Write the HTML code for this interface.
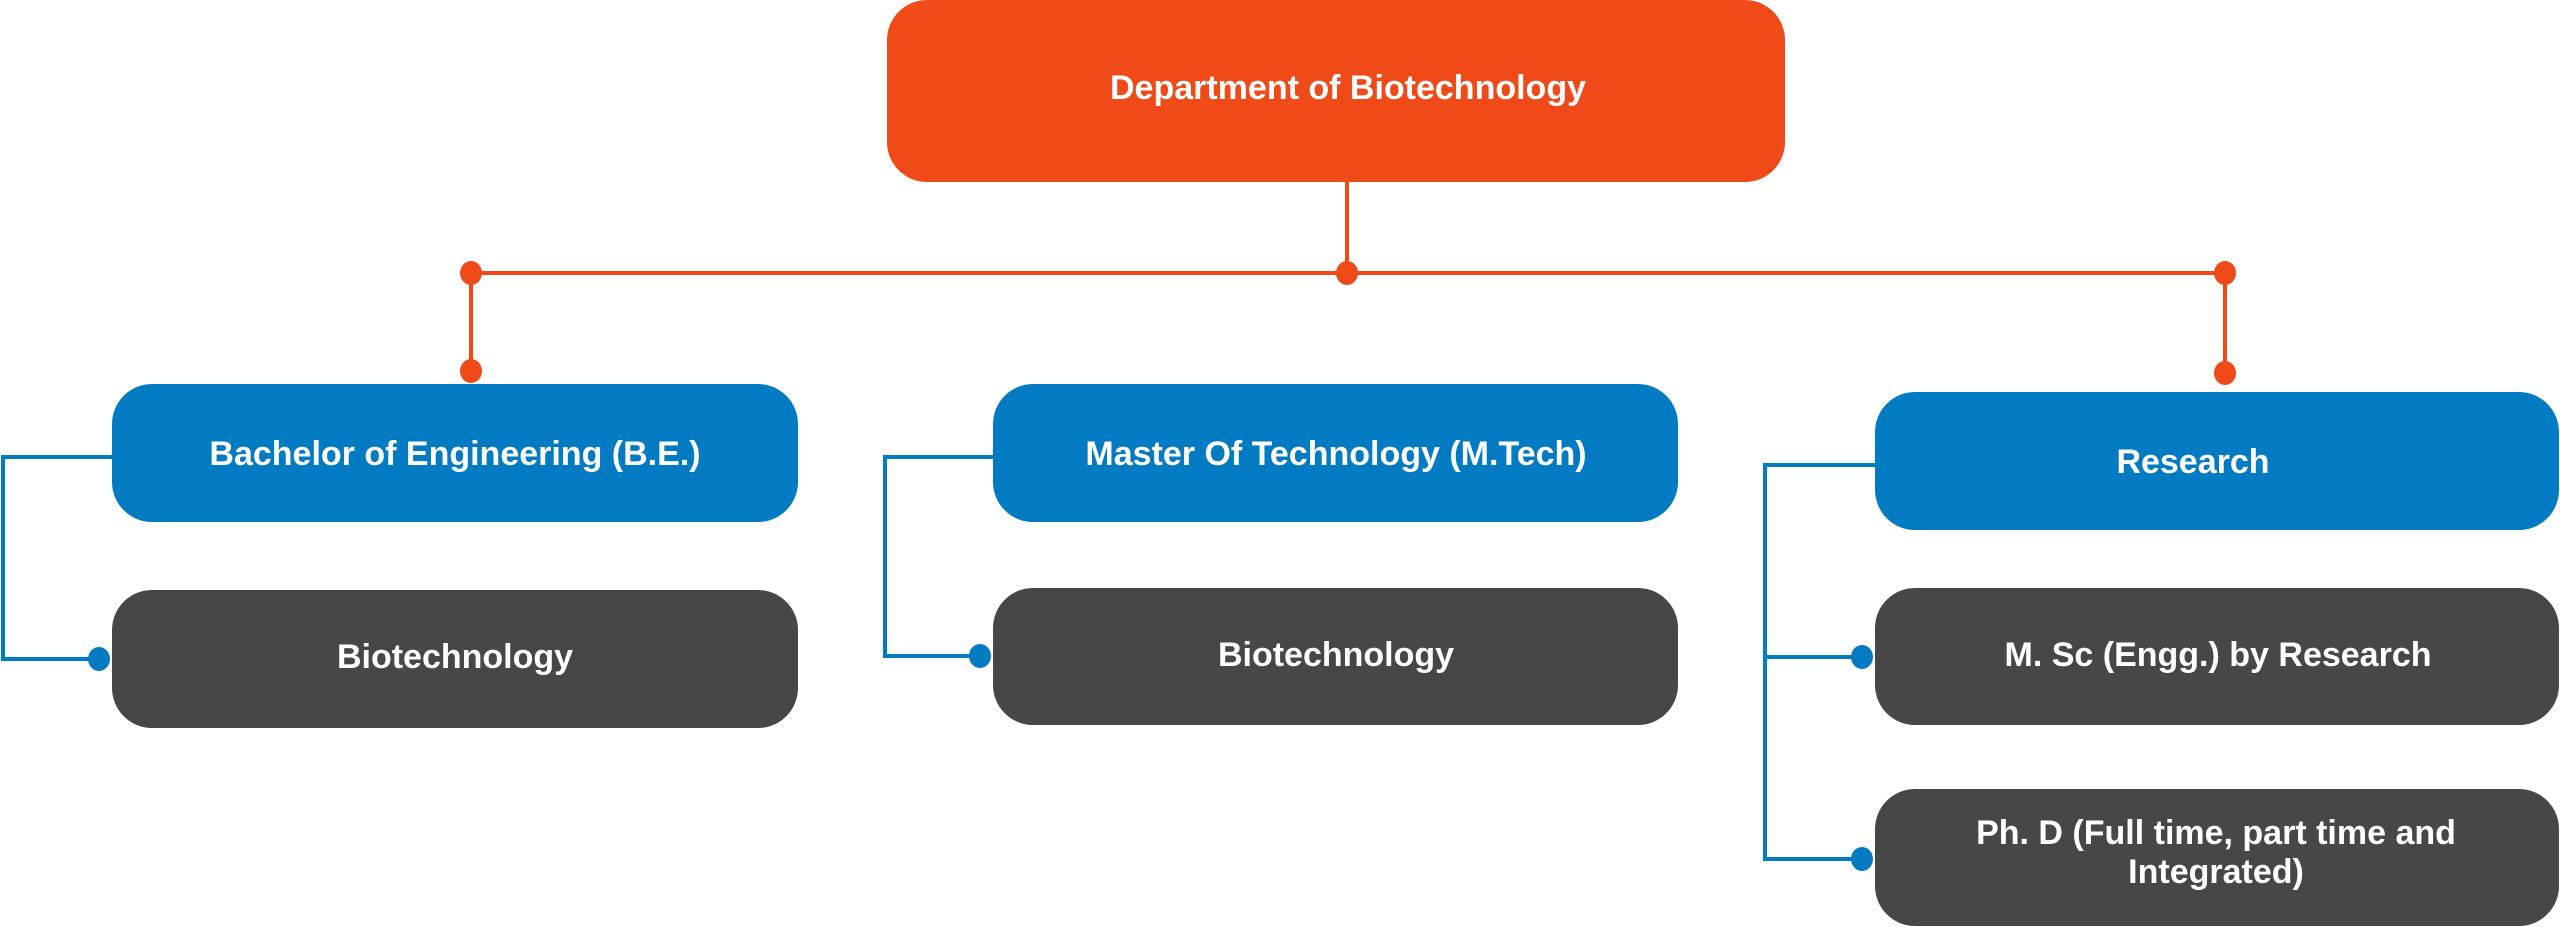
<!DOCTYPE html>
<html><head><meta charset="utf-8"><style>
html,body{margin:0;padding:0;background:#fff;width:2560px;height:927px;overflow:hidden}
svg{display:block}
text{font-family:"Liberation Sans",sans-serif;font-weight:bold;fill:#fff;font-size:34px;text-anchor:middle;dominant-baseline:central}
</style></head><body>
<svg width="2560" height="927" viewBox="0 0 2560 927">
<g stroke="#EF4A17" stroke-width="4" fill="none">
<line x1="1347" y1="181" x2="1347" y2="273"/>
<line x1="471" y1="273" x2="2225" y2="273"/>
<line x1="471" y1="273" x2="471" y2="371"/>
<line x1="2225" y1="273" x2="2225" y2="373"/>
</g>
<g fill="#EF4A17">
<ellipse cx="471" cy="273" rx="11" ry="12"/>
<ellipse cx="1347" cy="273" rx="11" ry="12"/>
<ellipse cx="2225" cy="273" rx="11" ry="12"/>
<ellipse cx="471" cy="371" rx="11" ry="12"/>
<ellipse cx="2225" cy="373" rx="11" ry="12"/>
</g>
<g stroke="#037BC2" stroke-width="4" fill="none">
<polyline points="112,457 3,457 3,659 99,659"/>
<polyline points="993,457 885,457 885,656 980,656"/>
<polyline points="1875,465 1765,465 1765,859 1862,859"/>
<line x1="1765" y1="657" x2="1862" y2="657"/>
</g>
<g fill="#037BC2">
<ellipse cx="99" cy="659" rx="11" ry="12"/>
<ellipse cx="980" cy="656" rx="11" ry="12"/>
<ellipse cx="1862" cy="657" rx="11" ry="12"/>
<ellipse cx="1862" cy="859" rx="11" ry="12"/>
</g>
<rect x="887" y="0" width="898" height="182" rx="40" fill="#EF4A17"/>
<rect x="112" y="384" width="686" height="138" rx="40" fill="#037BC2"/>
<rect x="993" y="384" width="685" height="138" rx="40" fill="#037BC2"/>
<rect x="1875" y="392" width="684" height="138" rx="40" fill="#037BC2"/>
<rect x="112" y="590" width="686" height="138" rx="40" fill="#474747"/>
<rect x="993" y="588" width="685" height="137" rx="40" fill="#474747"/>
<rect x="1875" y="588" width="684" height="137" rx="40" fill="#474747"/>
<rect x="1875" y="789" width="684" height="137" rx="40" fill="#474747"/>
<text x="1348" y="88">Department of Biotechnology</text>
<text x="455" y="454">Bachelor of Engineering (B.E.)</text>
<text x="1336" y="454">Master Of Technology (M.Tech)</text>
<text x="2193" y="462">Research</text>
<text x="455" y="657">Biotechnology</text>
<text x="1336" y="655">Biotechnology</text>
<text x="2218" y="655">M. Sc (Engg.) by Research</text>
<text x="2216" y="833">Ph. D (Full time, part time and</text>
<text x="2216" y="872">Integrated)</text>
</svg>
</body></html>
